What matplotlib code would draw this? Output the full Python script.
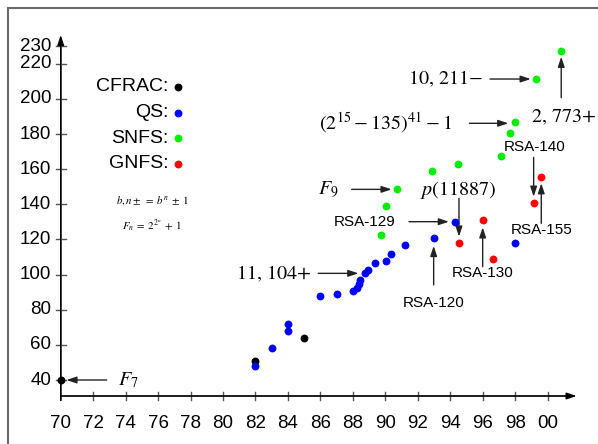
import matplotlib
matplotlib.use('Agg')
import matplotlib.pyplot as plt
from matplotlib.patches import Rectangle

plt.rcParams['mathtext.fontset'] = 'stix'
plt.rcParams['font.family'] = ['Liberation Sans', 'DejaVu Sans']

# ---------------- data ----------------
cfrac_year = [70, 82, 85]
cfrac_digits = [40, 51, 64]

qs_year = [82, 83, 84, 84, 86, 87, 88.03, 88.24, 88.38, 88.46, 88.73, 88.92,
           89.35, 90.04, 90.35, 91.21, 93.0, 94.27, 98.0]
qs_digits = [48, 58.4, 72, 68, 87.8, 89.1, 90.7, 92.4, 94.5, 96.9, 100.7, 102.6,
             106.8, 107.7, 111.5, 116.8, 120.8, 130.1, 118]

snfs_year = [89.73, 90.04, 90.72, 92.9, 94.46, 97.15, 97.68, 97.99, 99.3, 100.84]
snfs_digits = [122.5, 139.2, 148.5, 158.8, 162.9, 167.5, 180.4, 186.7, 211.3, 227.2]

gnfs_year = [94.54, 96.0, 96.65, 99.14, 99.61]
gnfs_digits = [118.2, 131.1, 108.9, 140.9, 155.4]

x_ticks = [70, 72, 74, 76, 78, 80, 82, 84, 86, 88, 90, 92, 94, 96, 98, 100]
x_tick_labels = ['70', '72', '74', '76', '78', '80', '82', '84', '86', '88',
                 '90', '92', '94', '96', '98', '00']
y_ticks = [40, 60, 80, 100, 120, 140, 160, 180, 200, 220, 230]
y_tick_labels = ['40', '60', '80', '100', '120', '140', '160', '180', '200', '220', '230']

legend_names = ['CFRAC:', 'QS:', 'SNFS:', 'GNFS:']
colors = ['black', '#0000ff', '#00ee00', '#ff0000']

# annotation labels: (text, tail, tip, text position, ha, math?)
annotations = [
    (r'$F_7$', (72.83, 40), (70.35, 40), (73.5, 40), 'left', True),
    (r'$11,\,104{+}$', (85.87, 100.7), (88.34, 100.7), (80.8, 100.7), 'left', True),
    ('RSA-129', (91.46, 130.1), (93.92, 130.1), (88.75, 130.1), 'center', False),
    (r'$F_9$', (87.93, 148.5), (90.39, 148.5), (85.87, 148.5), 'left', True),
    (r'$p(11887)$', (94.54, 143.4), (94.54, 121.6), (94.48, 148.2), 'center', True),
    ('RSA-120', (92.98, 94.1), (92.98, 116.3), (92.98, 83.7), 'center', False),
    ('RSA-130', (96.0, 104.5), (96.0, 126.9), (96.02, 100.7), 'center', False),
    ('RSA-155', (99.61, 129.2), (99.61, 152.0), (99.61, 125.4), 'center', False),
    ('RSA-140', (99.14, 166.7), (99.14, 144.3), (99.17, 172.8), 'center', False),
    (r'$(2^{15}-135)^{41}-1$', (95.18, 186.1), (97.58, 186.1), (85.93, 186.3), 'left', True),
    (r'$10,\,211{-}$', (96.45, 211.3), (98.96, 211.3), (91.42, 211.3), 'left', True),
    (r'$2,\,773{+}$', (100.84, 200.7), (100.84, 224.0), (98.96, 189.8), 'left', True),
]

# ---------------- figure ----------------
W, H = 598, 444
fig = plt.figure(figsize=(W / 100, H / 100), dpi=100)
ax = fig.add_axes([0, 0, 1, 1])
ax.set_axis_off()

px_x0, sx = 60.7, 16.23      # pixel of x=70, px per year
py_y0, sy = 380.0, 1.757     # pixel of y=40, px per digit
ax.set_xlim(70 - px_x0 / sx, 70 + (W - px_x0) / sx)
ax.set_ylim(40 - (H - py_y0) / sy, 40 + py_y0 / sy)

axis_col = '#555555'
y_base = 40 - 16 / sy          # x-axis height
x_end = 70 + (576.7 - px_x0) / sx
y_top = 40 + (py_y0 - 35) / sy

ax.annotate('', xy=(x_end, y_base), xytext=(70, y_base),
            arrowprops=dict(arrowstyle='-|>,head_length=0.6,head_width=0.2',
                            color='black', lw=1.0, shrinkA=0, shrinkB=0,
                            mutation_scale=10), annotation_clip=False)
ax.plot([70, x_end - 0.4], [y_base, y_base], color=axis_col, lw=1.2)
ax.annotate('', xy=(70, y_top), xytext=(70, y_base - 4.5 / sy),
            arrowprops=dict(arrowstyle='-|>,head_length=0.6,head_width=0.2',
                            color='black', lw=1.0, shrinkA=0, shrinkB=0,
                            mutation_scale=10), annotation_clip=False)
ax.plot([70, 70], [y_base - 4.5 / sy, y_top - 3], color=axis_col, lw=1.2)

tx = 4.5 / sx
ty = 4.5 / sy
for xt, lab in zip(x_ticks, x_tick_labels):
    if xt != 70:
        ax.plot([xt, xt], [y_base - ty, y_base + ty], color=axis_col, lw=1.0)
    ax.text(xt, 40 - (423 - py_y0) / sy, lab, ha='center', va='center', fontsize=13.5)
for yt, lab in zip(y_ticks, y_tick_labels):
    ax.plot([70 - 5 / sx, 70 + 5 / sx], [yt, yt], color=axis_col, lw=1.0)
    ax.text(70 - 9.5 / sx, yt, lab, ha='right', va='center', fontsize=13.5)

# points
ms = 32
ax.scatter(cfrac_year, cfrac_digits, s=ms, color=colors[0], zorder=5, lw=0)
ax.scatter(qs_year, qs_digits, s=ms, color=colors[1], zorder=5, lw=0)
ax.scatter(snfs_year, snfs_digits, s=ms, color=colors[2], zorder=5, lw=0)
ax.scatter(gnfs_year, gnfs_digits, s=ms, color=colors[3], zorder=5, lw=0)

# legend (drawn as text + dots)
leg_x_text = 70 + (168.3 - px_x0) / sx
leg_x_dot = 70 + (177.7 - px_x0) / sx
leg_py = [86.7, 112.7, 138.3, 164.0]
for name, c, py in zip(legend_names, colors, leg_py):
    yv = 40 + (py_y0 - py) / sy
    ax.text(leg_x_text, yv, name, ha='right', va='center', fontsize=14)
    ax.scatter([leg_x_dot], [yv], s=ms, color=c, lw=0, zorder=5)

ax.text(75.66, 142.4, r'$b,n\pm\;=\;b^{n}\;\pm\;1$', ha='center', va='center', fontsize=7.8)
ax.text(75.63, 127.6, r'$F_n\;=\;2^{2^{n}}\;+\;1$', ha='center', va='center', fontsize=7.8)

for text, tail, tip, pos, ha, is_math in annotations:
    ax.annotate('', xy=tip, xytext=tail,
                arrowprops=dict(arrowstyle='-|>,head_length=0.6,head_width=0.2',
                                color='#222222', lw=1.0, shrinkA=0, shrinkB=0,
                                mutation_scale=10))
    ax.text(pos[0], pos[1], text, ha=ha, va='center',
            fontsize=14.5 if is_math else 11)

# page frame
fig.patches.append(Rectangle((8 / W, -0.2), 2, 1 - 8 / H + 0.2, transform=fig.transFigure,
                             fill=False, edgecolor='#6a6a6a', lw=1.5))

fig.savefig('out.png', dpi=100)
